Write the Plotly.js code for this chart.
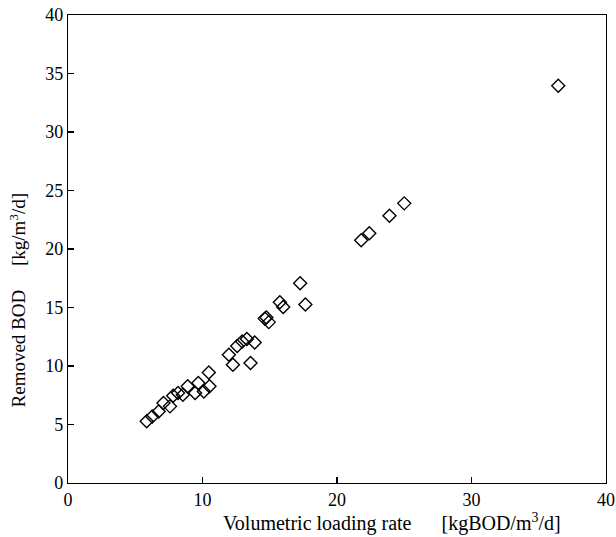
<!DOCTYPE html>
<html>
<head>
<meta charset="utf-8">
<script src="https://cdn.plot.ly/plotly-3.0.1.min.js"></script>
<style>body{margin:0;padding:0;background:#fff;}#chart{width:616px;height:537px;}</style>
</head>
<body>
<div id="chart"></div>
<script>
// Volumetric loading rate [kgBOD/m3/d]
var loadingRate = [5.85, 6.26, 6.74, 7.1, 7.58, 7.82, 8.18, 8.54, 8.9, 9.45, 9.69, 10.1, 10.47, 10.52,
  11.96, 12.26, 12.58, 12.95, 13.3, 13.57, 13.88,
  14.63, 14.75, 14.93, 15.75, 16.0, 17.26, 17.65,
  21.8, 22.4, 23.9, 25.0, 36.45];
// Removed BOD [kg/m3/d]
var removedBOD = [5.27, 5.69, 6.12, 6.84, 6.55, 7.46, 7.7, 7.55, 8.26, 7.7, 8.55, 7.83, 9.45, 8.26,
  10.97, 10.1, 11.7, 12.1, 12.3, 10.26, 12.0,
  14.05, 14.15, 13.75, 15.45, 15.04, 17.07, 15.25,
  20.75, 21.35, 22.85, 23.9, 33.95];

var xTicks = [0, 10, 20, 30, 40];
var yTicks = [0, 5, 10, 15, 20, 25, 30, 35, 40];

var serif = "Liberation Serif, DejaVu Serif, serif";

var trace = {
  x: loadingRate,
  y: removedBOD,
  mode: 'markers',
  type: 'scatter',
  marker: {symbol: 'diamond-open', size: 10, color: '#000', line: {width: 1.4, color: '#000'}},
  hoverinfo: 'x+y'
};

var axisCommon = {
  showline: true, mirror: true, linecolor: '#000', linewidth: 1.2,
  showgrid: false, zeroline: false,
  ticks: 'inside', ticklen: 6, tickwidth: 1.2, tickcolor: '#000',
  tickfont: {family: serif, size: 18, color: '#000'},
  fixedrange: true
};

var layout = {
  width: 616, height: 537,
  margin: {l: 68, r: 10, t: 15, b: 54},
  paper_bgcolor: '#fff', plot_bgcolor: '#fff',
  showlegend: false,
  font: {family: serif, color: '#000'},
  xaxis: Object.assign({}, axisCommon, {range: [0, 40], tickmode: 'array', tickvals: xTicks, ticktext: xTicks.map(String)}),
  yaxis: Object.assign({}, axisCommon, {range: [0, 40], tickmode: 'array', tickvals: yTicks, ticktext: yTicks.map(String)}),
  annotations: [
    {text: 'Volumetric loading rate&nbsp;&nbsp;&nbsp;&nbsp;&nbsp;&nbsp;[kgBOD/m<sup>3</sup>/d]', xref: 'paper', yref: 'paper',
     x: 0.603, y: 0, yshift: -39, xanchor: 'center', yanchor: 'middle', showarrow: false,
     font: {family: serif, size: 20, color: '#000'}},
    {text: 'Removed BOD&nbsp;&nbsp;&nbsp;&nbsp;&nbsp;[kg/m<sup>3</sup>/d]', xref: 'paper', yref: 'paper',
     x: 0, xshift: -50, y: 0.39, textangle: -90, xanchor: 'center', yanchor: 'middle', showarrow: false,
     font: {family: serif, size: 19, color: '#000'}}
  ]
};

Plotly.newPlot('chart', [trace], layout, {displayModeBar: false, staticPlot: true});
</script>
</body>
</html>
